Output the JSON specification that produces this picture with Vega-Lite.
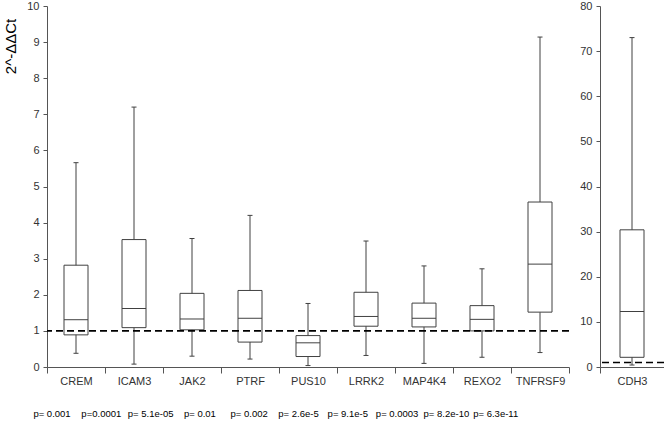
{
  "$schema": "https://vega.github.io/schema/vega-lite/v6.json",
  "background": "white",
  "padding": {"left": 3, "top": 0, "right": 2, "bottom": 5},
  "config": {
    "view": {"stroke": null},
    "font": "Liberation Sans",
    "axis": {
      "labelFont": "Liberation Sans",
      "labelFontSize": 11,
      "labelColor": "#333333",
      "domainColor": "#555555",
      "tickColor": "#555555",
      "grid": false,
      "titleFont": "Liberation Sans"
    }
  },
  "datasets": {
    "genes": [
      {"gene": "CREM", "low": 0.38, "q1": 0.89, "median": 1.31, "q3": 2.82, "high": 5.66},
      {"gene": "ICAM3", "low": 0.08, "q1": 1.09, "median": 1.62, "q3": 3.53, "high": 7.2},
      {"gene": "JAK2", "low": 0.3, "q1": 1.03, "median": 1.33, "q3": 2.04, "high": 3.56},
      {"gene": "PTRF", "low": 0.22, "q1": 0.69, "median": 1.35, "q3": 2.12, "high": 4.2},
      {"gene": "PUS10", "low": 0.04, "q1": 0.29, "median": 0.67, "q3": 0.87, "high": 1.76},
      {"gene": "LRRK2", "low": 0.32, "q1": 1.13, "median": 1.4, "q3": 2.07, "high": 3.49},
      {"gene": "MAP4K4", "low": 0.1, "q1": 1.11, "median": 1.35, "q3": 1.77, "high": 2.8},
      {"gene": "REXO2", "low": 0.27, "q1": 1.0, "median": 1.32, "q3": 1.7, "high": 2.72},
      {"gene": "TNFRSF9", "low": 0.4, "q1": 1.52, "median": 2.85, "q3": 4.57, "high": 9.14}
    ],
    "cdh3": [
      {"gene": "CDH3", "low": 0.44, "q1": 2.15, "median": 12.3, "q3": 30.4, "high": 73.0}
    ],
    "ref": [{"ref": 1}],
    "pvals": [
      {"p": "p= 0.001"}, {"p": "p=0.0001"}, {"p": "p= 5.1e-05"}, {"p": "p= 0.01"}, {"p": "p= 0.002"},
      {"p": "p= 2.6e-5"}, {"p": "p= 9.1e-5"}, {"p": "p= 0.0003"}, {"p": "p= 8.2e-10"}, {"p": "p= 6.3e-11"}
    ]
  },
  "bounds": "flush",
  "columns": 2,
  "spacing": {"row": 37, "column": 31},
  "concat": [
    {
      "width": 522,
      "height": 361,
      "layer": [
        {
          "data": {"name": "genes"},
          "mark": {"type": "rule", "color": "#404040", "strokeWidth": 1},
          "encoding": {
            "x": {"field": "gene", "type": "nominal", "sort": null, "title": null,
              "scale": {"paddingInner": 0, "paddingOuter": 0},
              "axis": {"labelAngle": 0, "tickBand": "extent", "tickSize": 6, "labelPadding": 2}},
            "y": {"field": "low", "type": "quantitative", "scale": {"domain": [0, 10]},
              "axis": {"values": [0, 1, 2, 3, 4, 5, 6, 7, 8, 9, 10], "labelOverlap": false, "tickSize": 4, "labelPadding": 4,
                "title": "2^-ΔΔCt", "titleFontSize": 15, "titleFontWeight": "normal", "titleColor": "black",
                "titleY": 40, "titleAlign": "center", "titlePadding": 8}},
            "y2": {"field": "high"}
          }
        },
        {
          "data": {"name": "genes"},
          "mark": {"type": "bar", "size": 24, "fill": "white", "stroke": "#404040", "strokeWidth": 1},
          "encoding": {
            "x": {"field": "gene", "type": "nominal", "sort": null},
            "y": {"field": "q1", "type": "quantitative",
              "axis": {"values": [0, 1, 2, 3, 4, 5, 6, 7, 8, 9, 10], "labelOverlap": false}},
            "y2": {"field": "q3"}
          }
        },
        {
          "data": {"name": "genes"},
          "mark": {"type": "tick", "size": 24, "thickness": 1, "color": "#404040", "opacity": 1},
          "encoding": {
            "x": {"field": "gene", "type": "nominal", "sort": null},
            "y": {"field": "median", "type": "quantitative",
              "axis": {"values": [0, 1, 2, 3, 4, 5, 6, 7, 8, 9, 10], "labelOverlap": false}}
          }
        },
        {
          "data": {"name": "genes"},
          "mark": {"type": "tick", "size": 5, "thickness": 1, "color": "#404040", "opacity": 1},
          "encoding": {
            "x": {"field": "gene", "type": "nominal", "sort": null},
            "y": {"field": "high", "type": "quantitative",
              "axis": {"values": [0, 1, 2, 3, 4, 5, 6, 7, 8, 9, 10], "labelOverlap": false}}
          }
        },
        {
          "data": {"name": "genes"},
          "mark": {"type": "tick", "size": 5, "thickness": 1, "color": "#404040", "opacity": 1},
          "encoding": {
            "x": {"field": "gene", "type": "nominal", "sort": null},
            "y": {"field": "low", "type": "quantitative",
              "axis": {"values": [0, 1, 2, 3, 4, 5, 6, 7, 8, 9, 10], "labelOverlap": false}}
          }
        },
        {
          "data": {"name": "ref"},
          "mark": {"type": "rule", "strokeDash": [7, 4], "strokeWidth": 1.6, "color": "black"},
          "encoding": {"y": {"field": "ref", "type": "quantitative",
            "axis": {"values": [0, 1, 2, 3, 4, 5, 6, 7, 8, 9, 10], "labelOverlap": false}}}
        }
      ]
    },
    {
      "width": 64,
      "height": 361,
      "layer": [
        {
          "data": {"name": "cdh3"},
          "mark": {"type": "rule", "color": "#404040", "strokeWidth": 1},
          "encoding": {
            "x": {"field": "gene", "type": "nominal", "sort": null, "title": null,
              "scale": {"paddingInner": 0, "paddingOuter": 0},
              "axis": {"labelAngle": 0, "tickBand": "extent", "tickSize": 6, "labelPadding": 2}},
            "y": {"field": "low", "type": "quantitative", "scale": {"domain": [0, 80]},
              "axis": {"values": [0, 10, 20, 30, 40, 50, 60, 70, 80], "labelOverlap": false, "tickSize": 4, "labelPadding": 4, "title": null}},
            "y2": {"field": "high"}
          }
        },
        {
          "data": {"name": "cdh3"},
          "mark": {"type": "bar", "size": 24, "fill": "white", "stroke": "#404040", "strokeWidth": 1},
          "encoding": {
            "x": {"field": "gene", "type": "nominal", "sort": null},
            "y": {"field": "q1", "type": "quantitative", "axis": {"values": [0, 10, 20, 30, 40, 50, 60, 70, 80], "title": null}},
            "y2": {"field": "q3"}
          }
        },
        {
          "data": {"name": "cdh3"},
          "mark": {"type": "tick", "size": 24, "thickness": 1, "color": "#404040", "opacity": 1},
          "encoding": {
            "x": {"field": "gene", "type": "nominal", "sort": null},
            "y": {"field": "median", "type": "quantitative", "axis": {"values": [0, 10, 20, 30, 40, 50, 60, 70, 80], "title": null}}
          }
        },
        {
          "data": {"name": "cdh3"},
          "mark": {"type": "tick", "size": 5, "thickness": 1, "color": "#404040", "opacity": 1},
          "encoding": {
            "x": {"field": "gene", "type": "nominal", "sort": null},
            "y": {"field": "high", "type": "quantitative", "axis": {"values": [0, 10, 20, 30, 40, 50, 60, 70, 80], "title": null}}
          }
        },
        {
          "data": {"name": "cdh3"},
          "mark": {"type": "tick", "size": 5, "thickness": 1, "color": "#404040", "opacity": 1},
          "encoding": {
            "x": {"field": "gene", "type": "nominal", "sort": null},
            "y": {"field": "low", "type": "quantitative", "axis": {"values": [0, 10, 20, 30, 40, 50, 60, 70, 80], "title": null}}
          }
        },
        {
          "data": {"name": "ref"},
          "mark": {"type": "rule", "strokeDash": [7, 4], "strokeWidth": 1.6, "color": "black"},
          "encoding": {"y": {"field": "ref", "type": "quantitative", "axis": {"values": [0, 10, 20, 30, 40, 50, 60, 70, 80], "title": null}}}
        }
      ]
    },
    {
      "width": 522,
      "height": 20,
      "data": {"name": "pvals"},
      "mark": {"type": "text", "fontSize": 9.5, "color": "black", "font": "Liberation Sans"},
      "encoding": {
        "x": {"field": "p", "type": "ordinal", "sort": null,
          "scale": {"type": "point", "padding": 0.794, "align": 0.064}, "axis": null},
        "text": {"field": "p"}
      }
    }
  ]
}
